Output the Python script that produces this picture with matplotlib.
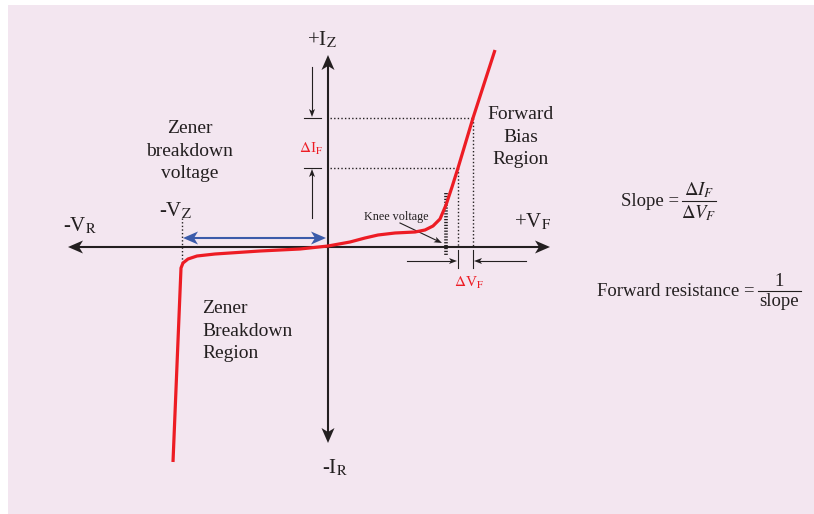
import matplotlib
matplotlib.use('Agg')
import matplotlib.pyplot as plt
import numpy as np
from matplotlib.patches import Polygon, Rectangle

plt.rcParams['font.family'] = ['Liberation Serif', 'DejaVu Serif']
plt.rcParams['mathtext.fontset'] = 'stix'

# diode curve, V (forward +) and I (forward +), origin where the axes cross
volts = [-155, -147, -145, -140, -131, -113, -68, -28, 0, 22, 37, 50, 67, 87, 97, 105, 112, 118, 124, 130, 145, 167]
amps = [-215, -21, -16, -12, -9, -7, -4, -2, 1, 5, 9, 12, 14, 15, 17, 21, 28, 42, 60, 79, 129, 197]

# points used for the slope construction
v_zener = -147
v_knee = 118
dv_pts = [130, 145]
di_pts = [79, 129]

ink = '#231F20'
red = '#ED1C24'
blue = '#3B5BAA'
pink = '#F3E6F0'


def stealth(ax, tip, d, length=15, half=6.5, notch=4, color=ink):
    d = np.array(d, float)
    d = d / np.hypot(*d)
    n = np.array([-d[1], d[0]])
    tip = np.array(tip, float)
    back = tip - d * length
    pts = [tip, back + n * half, back + d * notch, back - n * half]
    ax.add_patch(Polygon(pts, closed=True, fc=color, ec='none', zorder=5))


def small_arrow(ax, start, tip, color=ink):
    start = np.array(start, float)
    tip = np.array(tip, float)
    d = tip - start
    d = d / np.hypot(*d)
    end = tip - d * 5
    ax.plot([start[0], end[0]], [start[1], end[1]], color=color, lw=0.8)
    stealth(ax, tip, d, length=8, half=3, notch=2, color=color)


def fraction(ax, x_left, x_right, y, num, den, size=13.5):
    xc = (x_left + x_right) / 2
    ax.plot([x_left, x_right], [y, y], color=ink, lw=0.8)
    ax.text(xc, y + 1, num, fontsize=size, color=ink, ha='center', va='bottom')
    ax.text(xc, y - 2, den, fontsize=size, color=ink, ha='center', va='top')


fig = plt.figure(figsize=(8.14, 5.14), dpi=100)
fig.patches.append(Rectangle((8 / 814, 0), 1, (514 - 5) / 514, transform=fig.transFigure,
                             fc=pink, ec='none', zorder=-10))
ax = fig.add_axes([0, 0, 1, 1])
ax.set_xlim(-328, 486)
ax.set_ylim(-267, 247)
ax.axis('off')
ax.patch.set_alpha(0)

# axes with arrowheads
ax.plot([-255, 210], [0, 0], color=ink, lw=1.5, zorder=3)
ax.plot([0, 0], [-185, 180], color=ink, lw=1.5, zorder=3)
stealth(ax, (222, 0), (1, 0))
stealth(ax, (-260, 0), (-1, 0))
stealth(ax, (0, 192), (0, 1))
stealth(ax, (0, -196), (0, -1))

# dotted construction lines
dot = dict(color=ink, lw=1.0, ls=(0, (1, 1.6)), zorder=2)
ax.plot([2, dv_pts[1]], [di_pts[1], di_pts[1]], **dot)
ax.plot([2, dv_pts[0]], [di_pts[0], di_pts[0]], **dot)
ax.plot([dv_pts[1], dv_pts[1]], [di_pts[1], 0], **dot)
ax.plot([dv_pts[0], dv_pts[0]], [di_pts[0], 0], **dot)
ax.plot([v_zener + 1, v_zener + 1], [29, -18], **dot)
ax.plot([v_knee, v_knee], [54, -8], color=ink, lw=2.6, ls=(0, (0.35, 0.45)), zorder=2)

# delta V ticks and arrows
for v in dv_pts:
    ax.plot([v, v], [-3, -21], color=ink, lw=0.8)
small_arrow(ax, (79, -14), (dv_pts[0] - 1, -14))
small_arrow(ax, (198, -14), (dv_pts[1] + 1, -14))

# delta I ticks and arrows
for i in di_pts:
    ax.plot([-24, -7], [i, i], color=ink, lw=0.8)
small_arrow(ax, (-16, 180), (-16, di_pts[1] + 1))
small_arrow(ax, (-16, 29), (-16, di_pts[0] - 1))

# knee voltage pointer
small_arrow(ax, (72, 24), (114, 4))

# blue double arrow for the zener range
ax.plot([-140, -6], [9, 9], color=blue, lw=1.5, zorder=3)
stealth(ax, (-145, 9), (-1, 0), color=blue)
stealth(ax, (-2, 9), (1, 0), color=blue)

# diode curve
ax.plot(volts, amps, color=red, lw=2.3, solid_joinstyle='round', solid_capstyle='butt', zorder=4)

# labels
ax.text(-6, 207, r'+I$_\mathrm{Z}$', fontsize=15, color=ink, ha='center', va='center')
ax.text(7, -221, r'-I$_\mathrm{R}$', fontsize=15, color=ink, ha='center', va='center')
ax.text(-248, 21, r'-V$_\mathrm{R}$', fontsize=15, color=ink, ha='center', va='center')
ax.text(-152, 36, r'-V$_\mathrm{Z}$', fontsize=15, color=ink, ha='center', va='center')
ax.text(205, 25, r'+V$_\mathrm{F}$', fontsize=15, color=ink, ha='center', va='center')
ax.text(141, -36, r'$\Delta$V$_\mathrm{F}$', fontsize=11, color=red, ha='center', va='center')
ax.text(-17, 98, r'$\Delta$I$_\mathrm{F}$', fontsize=11, color=red, ha='center', va='center')
ax.text(68, 30, 'Knee voltage', fontsize=8.7, color=ink, ha='center', va='center')

ax.text(-138, 96, 'Zener\nbreakdown\nvoltage', fontsize=14, color=ink, ha='center', va='center',
        linespacing=1.45)
ax.text(193, 110, 'Forward\nBias\nRegion', fontsize=14, color=ink, ha='center', va='center',
        linespacing=1.45)
ax.text(-126, -84, 'Zener\nBreakdown\nRegion', fontsize=14, color=ink, ha='left', va='center',
        linespacing=1.45)

# slope and resistance formulas
ax.text(351, 46, 'Slope =', fontsize=13.5, color=ink, ha='right', va='center')
fraction(ax, 354, 388, 46, r'$\Delta I_F$', r'$\Delta V_F$')
ax.text(427, -44, 'Forward resistance =', fontsize=13.5, color=ink, ha='right', va='center')
fraction(ax, 430, 473, -44, '1', 'slope')

fig.savefig('out.png', dpi=100)
